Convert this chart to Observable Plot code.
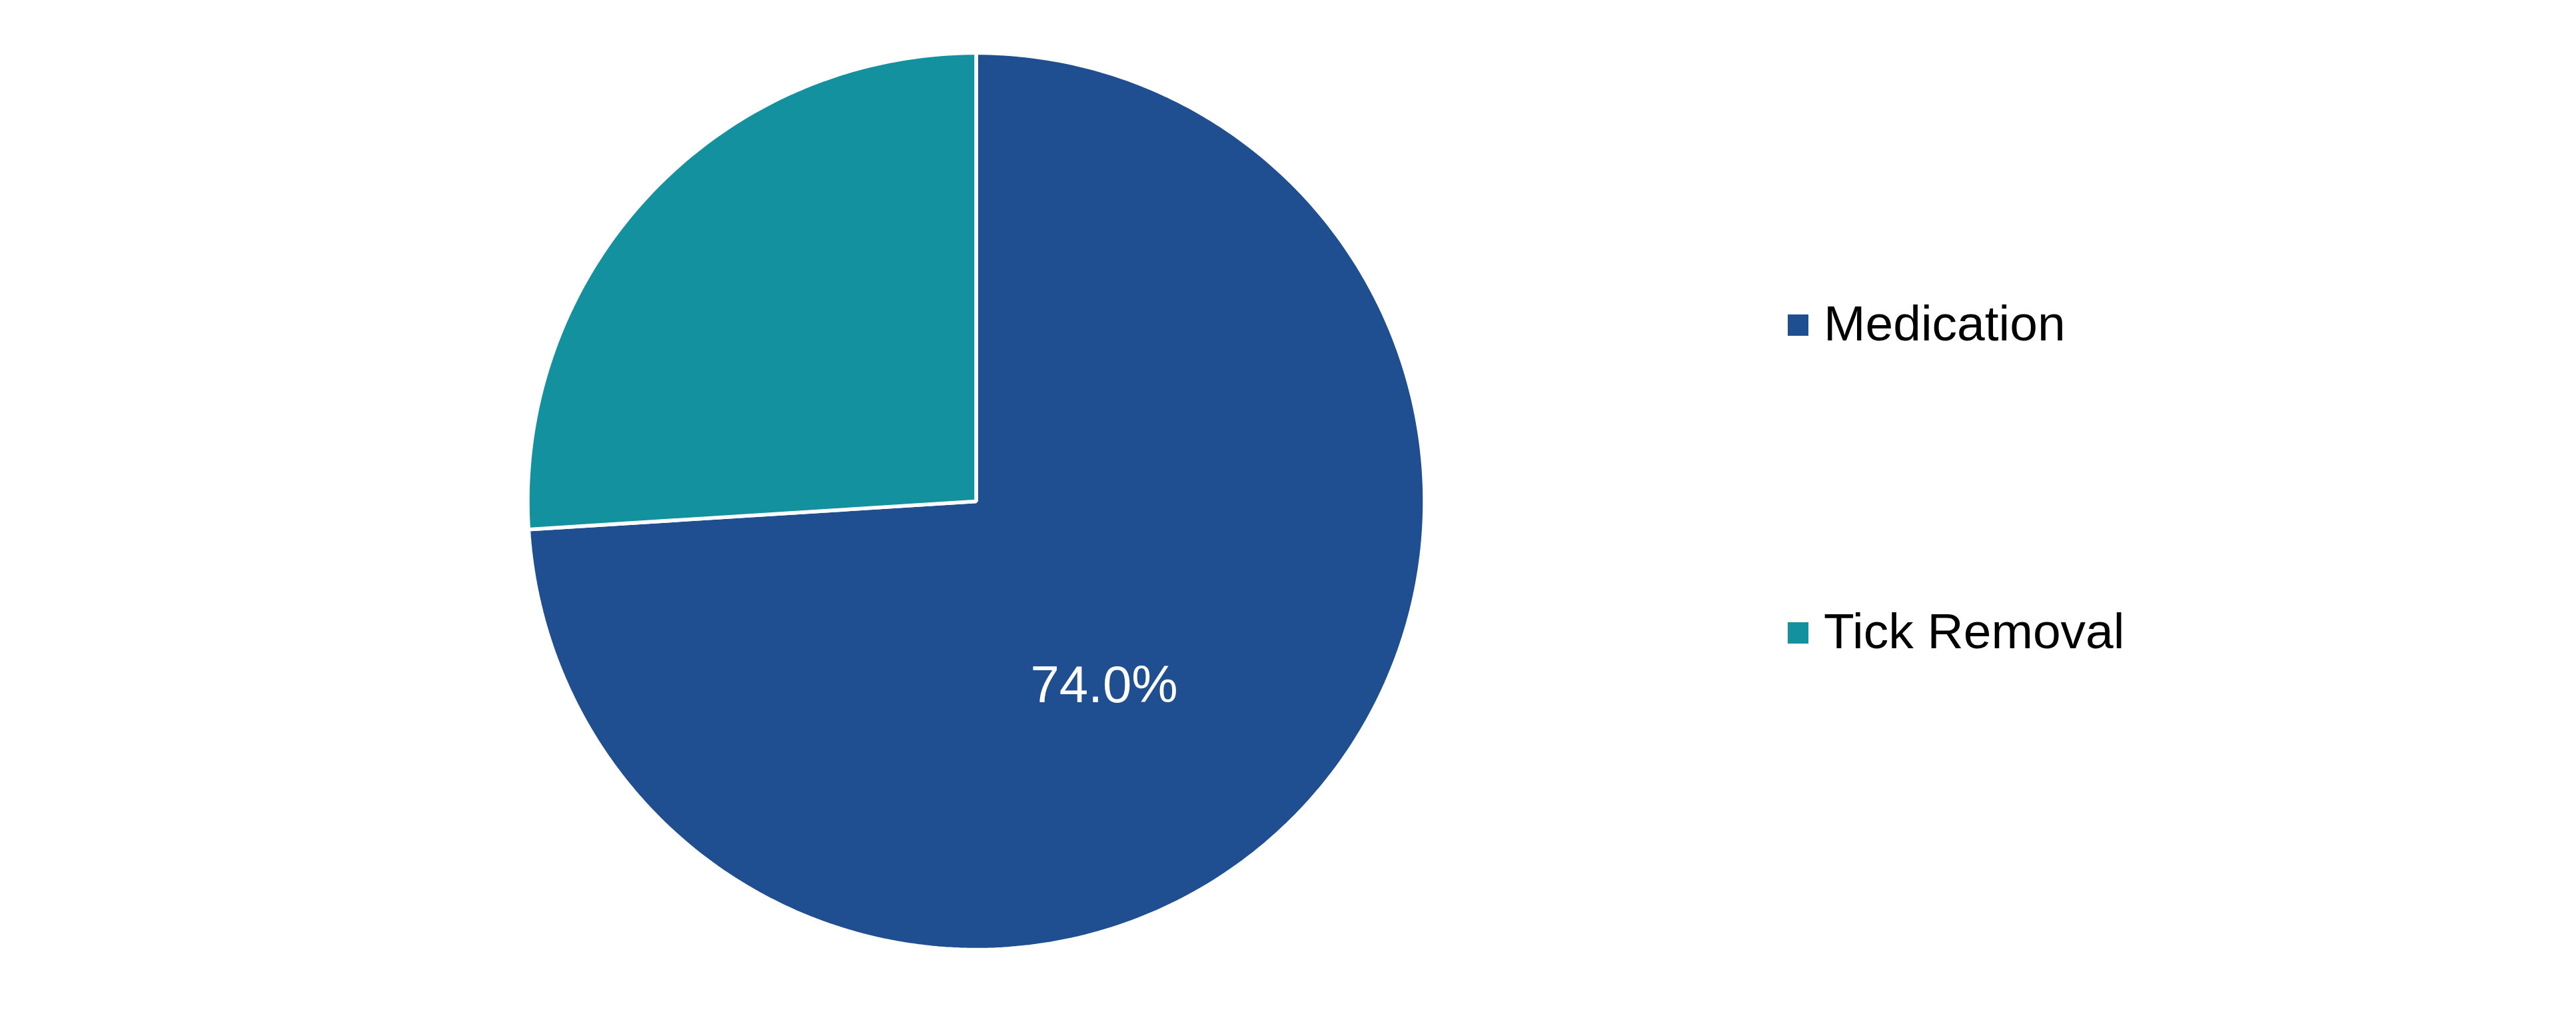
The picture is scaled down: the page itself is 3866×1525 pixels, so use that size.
<!DOCTYPE html>
<html>
<head>
<meta charset="utf-8">
<script src="https://cdn.jsdelivr.net/npm/d3@7"></script>
<script src="https://cdn.jsdelivr.net/npm/@observablehq/plot@0.6"></script>
<style>
  html, body { margin: 0; padding: 0; background: #fff; }
  #wrap { position: relative; width: 3866px; height: 1525px; font-family: "Liberation Sans", Arial, sans-serif; }
  #chart { position: absolute; left: 0; top: 0; }
  .leg { position: absolute; left: 2683px; display: flex; align-items: flex-start; font-size: 75px; line-height: 75px; color: #000; white-space: nowrap; }
  .sw { width: 31px; height: 32px; margin-top: 24px; margin-right: 23px; flex: none; }
</style>
</head>
<body>
<div id="wrap"><div id="chart"></div></div>
<script>
// ---- data ----
const categories = ["Medication", "Tick Removal"];
const shares = [74.0, 26.0];
const colors = ["#1F4F91", "#13919F"];
const labels = ["74.0%", ""];

// ---- geometry from d3.pie (clockwise from 12 o'clock) ----
const pie = d3.pie().sort(null).value(d => d.value)(categories.map((c, i) => ({name: c, value: shares[i]})));
const polys = [];
for (const s of pie) {
  const n = Math.max(2, Math.ceil((s.endAngle - s.startAngle) / (2 * Math.PI) * 400));
  polys.push({name: s.data.name, x: 0, y: 0});
  for (let k = 0; k <= n; k++) {
    const a = s.startAngle + (s.endAngle - s.startAngle) * k / n;
    polys.push({name: s.data.name, x: Math.sin(a), y: Math.cos(a)});
  }
}
const labelAngleShift = 12 * Math.PI / 180;
const labelRadius = 0.5;
const labelData = pie.map((s, i) => {
  const a = (s.startAngle + s.endAngle) / 2 + labelAngleShift;
  return {text: labels[i], x: labelRadius * Math.sin(a), y: labelRadius * Math.cos(a)};
}).filter(d => d.text);

const cx = 1464.5, cy = 752, R = 673;
const plot = Plot.plot({
  width: 3866,
  height: 1525,
  margin: 0,
  x: {domain: [-1, 1], range: [cx - R, cx + R], axis: null},
  y: {domain: [-1, 1], range: [cy + R, cy - R], axis: null},
  color: {domain: categories, range: colors},
  style: {background: "transparent", fontFamily: "Liberation Sans, Arial, sans-serif"},
  marks: [
    Plot.line(polys, {x: "x", y: "y", z: "name", fill: "name", stroke: "white", strokeWidth: 5.5, strokeLinejoin: "miter", curve: "linear-closed"}),
    Plot.text(labelData, {x: "x", y: "y", text: "text", fill: "white", fontSize: 78, fontFamily: "Liberation Sans, Arial, sans-serif"})
  ]
});
document.getElementById("chart").appendChild(plot);

// ---- legend ----
const wrap = document.getElementById("wrap");
categories.forEach((c, i) => {
  const item = document.createElement("div");
  item.className = "leg";
  item.style.top = (447.5 + i * 462.5) + "px";
  const sw = document.createElement("span");
  sw.className = "sw";
  sw.style.background = colors[i];
  const t = document.createElement("span");
  t.textContent = c;
  item.appendChild(sw);
  item.appendChild(t);
  wrap.appendChild(item);
});
</script>
</body>
</html>
